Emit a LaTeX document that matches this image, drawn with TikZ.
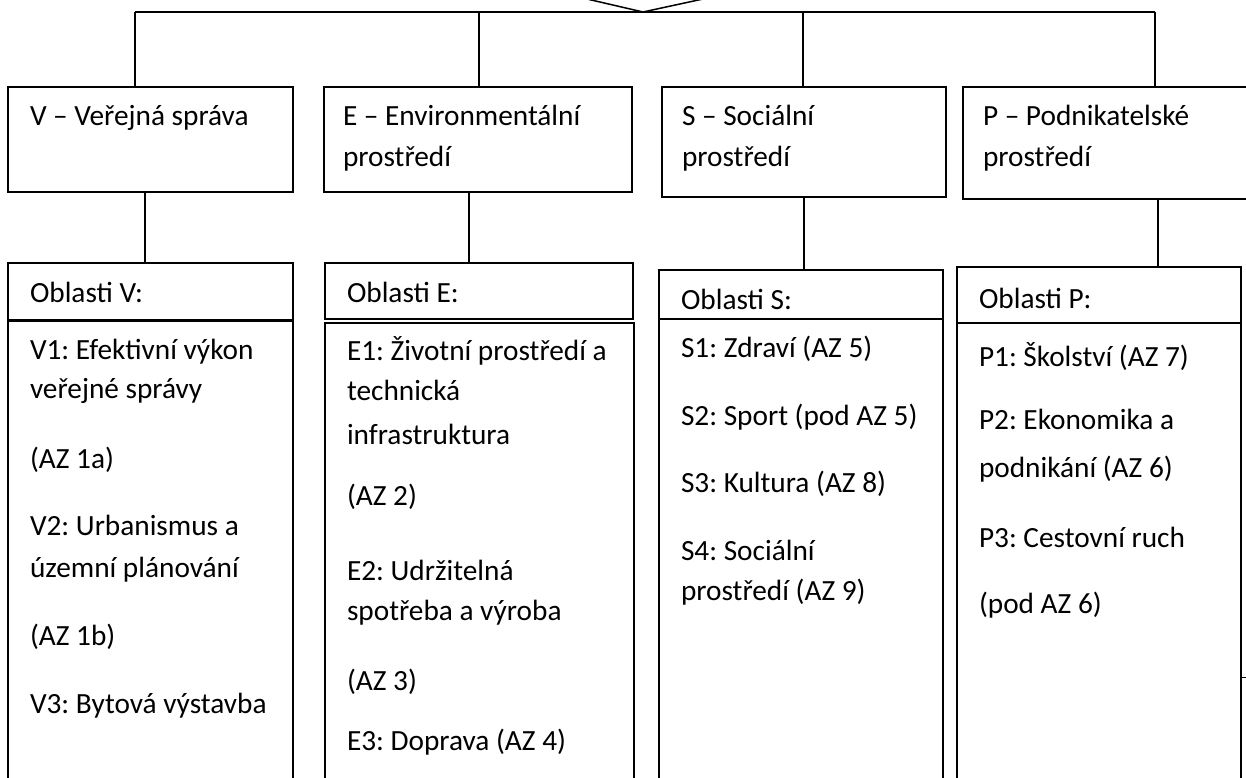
\documentclass[tikz,border=0pt]{standalone}
\usepackage{fontspec}
\setmainfont{Carlito}
\frenchspacing
\begin{document}
\frenchspacing
\begin{tikzpicture}[x=1pt,y=-1pt,
  box/.style={draw,line width=1.6pt,anchor=north west,inner sep=0pt,outer sep=0pt},
  txt/.style={anchor=base west,inner sep=0pt,outer sep=0pt,font=\fontsize{29.3}{35}\selectfont\frenchspacing},
  link/.style={line width=1.6pt},
  toplink/.style={line width=1.5pt}]
\clip (0,0) rectangle (1246,778);
% top-level boxes
\node[box,minimum width=285pt,minimum height=105pt] (V) at (8,87) {};
\node[box,minimum width=308pt,minimum height=105pt] (E) at (324,87) {};
\node[box,minimum width=284pt,minimum height=110pt] (S) at (662,87) {};
\node[box,minimum width=320pt,minimum height=112pt] (P) at (963,87) {};
% header boxes
\node[box,minimum width=285pt,minimum height=57pt] (Vh) at (8,263) {};
\node[box,minimum width=308pt,minimum height=56pt] (Eh) at (325,263) {};
\node[box,minimum width=284pt,minimum height=49pt] (Sh) at (659,270) {};
\node[box,minimum width=284pt,minimum height=56pt] (Ph) at (957,267) {};
% content boxes
\node[box,minimum width=285pt,minimum height=480pt] (Vc) at (8,321) {};
\node[box,minimum width=309pt,minimum height=480pt] (Ec) at (325,323) {};
\node[box,minimum width=284pt,minimum height=480pt] (Sc) at (659,319) {};
\node[box,minimum width=284pt,minimum height=480pt] (Pc) at (957,323) {};
% top connector structure
\coordinate (apexL) at (587,-1);
\coordinate (apex) at (643,12);
\coordinate (apexR) at (703,-1);
\coordinate (barL) at (135,12);
\coordinate (barE) at (479,12);
\coordinate (barS) at (803,12);
\coordinate (barR) at (1155,12);
\draw[toplink] (apexL) -- (apex) -- (apexR);
\draw[toplink] (barL) -- (barR);
\draw[toplink] (barL) -- (barL |- V.north);
\draw[toplink] (barE) -- (barE |- E.north);
\draw[toplink] (barS) -- (barS |- S.north);
\draw[toplink] (barR) -- (barR |- P.north);
% second-level connectors
\coordinate (vx) at (145,0);
\coordinate (ex) at (469,0);
\coordinate (sx) at (804,0);
\coordinate (px) at (1158,0);
\draw[link] (vx |- V.south) -- (vx |- Vh.north);
\draw[link] (ex |- E.south) -- (ex |- Eh.north);
\draw[link] (sx |- S.south) -- (sx |- Sh.north);
\draw[link] (px |- P.south) -- (px |- Ph.north);
% small tick at right edge
\coordinate (tickA) at (1241,677);
\coordinate (tickB) at (1246,677);
\draw[line width=1pt] (tickA) -- (tickB);
% top texts
\node[txt] (tV) at (30,126) {V – Veřejná správa};
\node[txt] (tE1) at (343,126) {E – Environmentální};
\node[txt] (tE2) at (343,167) {prostředí};
\node[txt] (tS1) at (682,126) {S – Sociální};
\node[txt] (tS2) at (682,167) {prostředí};
\node[txt] (tP1) at (983,126) {P – Podnikatelské};
\node[txt] (tP2) at (983,167) {prostředí};
% headers
\node[txt] (hV) at (30,302) {Oblasti V:};
\node[txt] (hE) at (347,302) {Oblasti E:};
\node[txt] (hS) at (681,309) {Oblasti S:};
\node[txt] (hP) at (979,308) {Oblasti P:};
% V content
\node[txt] (v1) at (30,359) {V1: Efektivní výkon};
\node[txt] (v2) at (30,398) {veřejné správy};
\node[txt] (v3) at (30,468) {(AZ 1a)};
\node[txt] (v4) at (30,535) {V2: Urbanismus a};
\node[txt] (v5) at (30,577) {územní plánování};
\node[txt] (v6) at (30,645) {(AZ 1b)};
\node[txt] (v7) at (30,713) {V3: Bytová výstavba};
% E content
\node[txt] (e1) at (347,360) {E1: Životní prostředí a};
\node[txt] (e2) at (347,400) {technická};
\node[txt] (e3) at (347,444) {infrastruktura};
\node[txt] (e4) at (347,505) {(AZ 2)};
\node[txt] (e5) at (347,580) {E2: Udržitelná};
\node[txt] (e6) at (347,620) {spotřeba a výroba};
\node[txt] (e7) at (347,690) {(AZ 3)};
\node[txt] (e8) at (347,750) {E3: Doprava (AZ 4)};
% S content
\node[txt] (s1) at (681,357) {S1: Zdraví (AZ 5)};
\node[txt] (s2) at (681,425) {S2: Sport (pod AZ 5)};
\node[txt] (s3) at (681,492) {S3: Kultura (AZ 8)};
\node[txt] (s4) at (681,560) {S4: Sociální};
\node[txt] (s5) at (681,600) {prostředí (AZ 9)};
% P content
\node[txt] (p1) at (979,366) {P1: Školství (AZ 7)};
\node[txt] (p2) at (979,429) {P2: Ekonomika a};
\node[txt] (p3) at (979,477) {podnikání (AZ 6)};
\node[txt] (p4) at (979,547) {P3: Cestovní ruch};
\node[txt] (p5) at (979,613) {(pod AZ 6)};
\end{tikzpicture}
\end{document}
